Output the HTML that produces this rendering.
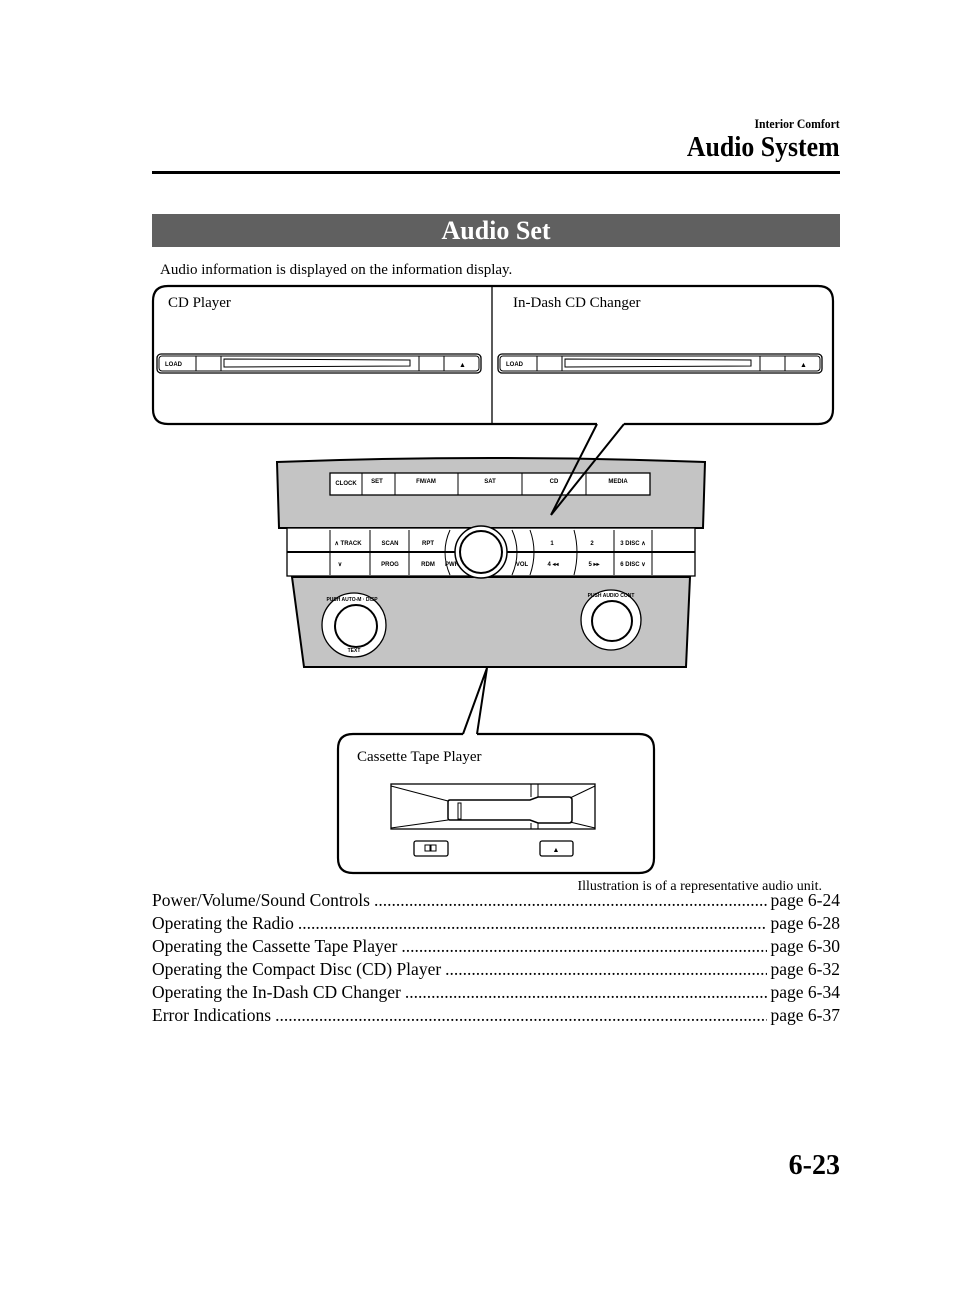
<!DOCTYPE html>
<html><head><meta charset="utf-8"><style>
body{margin:0;background:#fff;}
#p{position:relative;width:960px;height:1293px;overflow:hidden;font-family:"Liberation Serif",serif;color:#000;}
.a{position:absolute;white-space:nowrap;}
.toc{position:absolute;left:152px;width:688px;font-size:17.5px;display:flex;line-height:20px;}
.toc .t{white-space:nowrap;}
.toc .d{flex:1;overflow:hidden;white-space:nowrap;margin:0 4px;}
.toc .d::after{content:"....................................................................................................................................................................................................................";}
.toc .pg{white-space:nowrap;}
svg text{font-family:"Liberation Sans",sans-serif;font-weight:bold;}
</style></head><body><div id="p">
<div class="a" style="right:120px;top:116px;font-size:13px;font-weight:bold;transform:scaleX(0.9);transform-origin:right;">Interior Comfort</div>
<div class="a" style="right:120px;top:131px;font-size:29px;font-weight:bold;transform:scaleX(0.89);transform-origin:right;">Audio System</div>
<div class="a" style="left:152px;top:171px;width:688px;height:3px;background:#000;"></div>
<div class="a" style="left:152px;top:214px;width:688px;height:33px;background:#606060;color:#fff;font-size:26px;font-weight:bold;text-align:center;line-height:34px;">Audio Set</div>
<div class="a" style="left:160px;top:262px;font-size:15px;">Audio information is displayed on the information display.</div>

<svg class="a" style="left:0;top:0" width="960" height="900" viewBox="0 0 960 900">
<g fill="none" stroke="#000">
<path d="M597,424 L168,424 Q153,424 153,409 L153,301 Q153,286 168,286 L818,286 Q833,286 833,301 L833,409 Q833,424 818,424 L624,424" stroke-width="2.2"/>
<line x1="492" y1="286" x2="492" y2="424" stroke-width="1.3"/>
</g>
<text x="168" y="307" style="font-family:'Liberation Serif';font-weight:normal" font-size="15">CD Player</text>
<text x="513" y="307" style="font-family:'Liberation Serif';font-weight:normal" font-size="15">In-Dash CD Changer</text>
<g id="slot" fill="#fff" stroke="#000">
<rect x="157" y="354" width="324" height="19" rx="4" stroke-width="1.3"/>
<rect x="159" y="356" width="320" height="15" rx="3" stroke-width="1"/>
<line x1="196" y1="356" x2="196" y2="371"/><line x1="221" y1="356" x2="221" y2="371"/>
<line x1="419" y1="356" x2="419" y2="371"/><line x1="444" y1="356" x2="444" y2="371"/>
<path d="M224,359 L410,360 L410,366 L224,367 Z" stroke-width="1"/>
</g>
<text x="165" y="366" font-size="6">LOAD</text><text x="459" y="367" font-size="7">▲</text>
<use href="#slot" x="341"/>
<text x="506" y="366" font-size="6">LOAD</text><text x="800" y="367" font-size="7">▲</text>

<path d="M277,462 Q490,454 705,462 L703,528 L279,528 Z" fill="#c4c4c4" stroke="#000" stroke-width="2"/>
<rect x="287" y="528" width="408" height="48" fill="#fff" stroke="#000" stroke-width="1.3"/>
<line x1="287" y1="552" x2="695" y2="552" stroke="#000" stroke-width="2"/>
<path d="M292,577 L690,577 L686,667 L304,667 Z" fill="#c4c4c4" stroke="#000" stroke-width="2"/>
<g stroke="#000" stroke-width="1" fill="none">
<line x1="330" y1="530" x2="330" y2="575"/><line x1="370" y1="530" x2="370" y2="575"/>
<line x1="409" y1="530" x2="409" y2="575"/>
<path d="M450,530 Q440,552 450,575"/><path d="M512,530 Q522,552 512,575"/>
<path d="M530,530 Q538,552 530,575"/><path d="M574,530 Q580,552 574,575"/>
<line x1="614" y1="530" x2="614" y2="575"/><line x1="652" y1="530" x2="652" y2="575"/>
</g>
<rect x="330" y="473" width="320" height="22" fill="#fff" stroke="#000" stroke-width="1.3"/>
<g stroke="#000" stroke-width="1"><line x1="362" y1="473" x2="362" y2="495"/><line x1="395" y1="473" x2="395" y2="495"/><line x1="458" y1="473" x2="458" y2="495"/><line x1="522" y1="473" x2="522" y2="495"/><line x1="586" y1="473" x2="586" y2="495"/></g>
<g font-size="6" text-anchor="middle">
<text x="346" y="485">CLOCK</text><text x="377" y="483">SET</text><text x="426" y="483">FM/AM</text><text x="490" y="483">SAT</text><text x="554" y="483">CD</text><text x="618" y="483">MEDIA</text>
<text x="348" y="545">∧ TRACK</text><text x="390" y="545">SCAN</text><text x="428" y="545">RPT</text>
<text x="552" y="545">1</text><text x="592" y="545">2</text><text x="633" y="545">3 DISC ∧</text>
<text x="340" y="566">∨</text><text x="390" y="566">PROG</text><text x="428" y="566">RDM</text>
<text x="452" y="566">PWR</text><text x="522" y="566">VOL</text>
<text x="553" y="566">4 ◂◂</text><text x="594" y="566">5 ▸▸</text><text x="633" y="566">6 DISC ∨</text>
</g>
<circle cx="481" cy="552" r="26" fill="#fff" stroke="#000" stroke-width="1.5"/>
<circle cx="481" cy="552" r="21" fill="#fff" stroke="#000" stroke-width="2"/>
<circle cx="354" cy="625" r="32" fill="#fff" stroke="#000" stroke-width="1.3"/>
<circle cx="356" cy="626" r="21" fill="#fff" stroke="#000" stroke-width="2"/>
<circle cx="611" cy="620" r="30" fill="#fff" stroke="#000" stroke-width="1.3"/>
<circle cx="612" cy="621" r="20" fill="#fff" stroke="#000" stroke-width="2"/>
<text x="354" y="652" font-size="5" text-anchor="middle">TEXT</text>
<text x="352" y="601" font-size="5" text-anchor="middle">PUSH AUTO-M · DISP</text>
<text x="611" y="597" font-size="5" text-anchor="middle">PUSH AUDIO CONT</text>

<path d="M597,424 L551,515 M624,424 L551,515" stroke="#000" stroke-width="2" fill="none"/>

<path d="M487,668 L463,734 M487,668 L477,734" stroke="#000" stroke-width="2" fill="none"/>
<path d="M463,734 L353,734 Q338,734 338,749 L338,858 Q338,873 353,873 L639,873 Q654,873 654,858 L654,749 Q654,734 639,734 L477,734" stroke="#000" stroke-width="2.2" fill="none"/>
<text x="357" y="761" style="font-family:'Liberation Serif';font-weight:normal" font-size="15">Cassette Tape Player</text>
<g stroke="#000" fill="none" stroke-width="1">
<rect x="391" y="784" width="204" height="45" stroke-width="1.3"/>
<path d="M391,786 L448,801 M391,828 L448,820 M595,786 L570,798 M595,828 L570,822"/>
<path d="M450,800 L530,800 L538,797 L569,797 Q572,797 572,800 L572,820 Q572,823 569,823 L538,823 L530,820 L450,820 Q448,820 448,818 L448,802 Q448,800 450,800 Z" stroke-width="1.5"/>
<rect x="458" y="803" width="3" height="16"/>
<line x1="531" y1="784" x2="531" y2="797"/><line x1="538" y1="784" x2="538" y2="797"/>
<line x1="531" y1="823" x2="531" y2="829"/><line x1="538" y1="823" x2="538" y2="829"/>
<rect x="414" y="841" width="34" height="15" rx="2" stroke-width="1.3"/>
<rect x="540" y="841" width="33" height="15" rx="2" stroke-width="1.3"/>
<rect x="425" y="845" width="5" height="6"/><rect x="431" y="845" width="5" height="6"/>
</g>
<text x="556" y="852" font-size="7" text-anchor="middle">▲</text>
</svg>

<div class="a" style="right:138px;top:879px;font-size:14px;">Illustration is of a representative audio unit.</div>
<div class="toc" style="top:890px;"><span class="t">Power/Volume/Sound Controls</span><span class="d"></span><span class="pg">page 6-24</span></div>
<div class="toc" style="top:913px;"><span class="t">Operating the Radio</span><span class="d"></span><span class="pg">page 6-28</span></div>
<div class="toc" style="top:936px;"><span class="t">Operating the Cassette Tape Player</span><span class="d"></span><span class="pg">page 6-30</span></div>
<div class="toc" style="top:959px;"><span class="t">Operating the Compact Disc (CD) Player</span><span class="d"></span><span class="pg">page 6-32</span></div>
<div class="toc" style="top:982px;"><span class="t">Operating the In-Dash CD Changer</span><span class="d"></span><span class="pg">page 6-34</span></div>
<div class="toc" style="top:1005px;"><span class="t">Error Indications</span><span class="d"></span><span class="pg">page 6-37</span></div>
<div class="a" style="right:120px;top:1150px;font-size:28px;font-weight:bold;">6-23</div>
</div></body></html>
